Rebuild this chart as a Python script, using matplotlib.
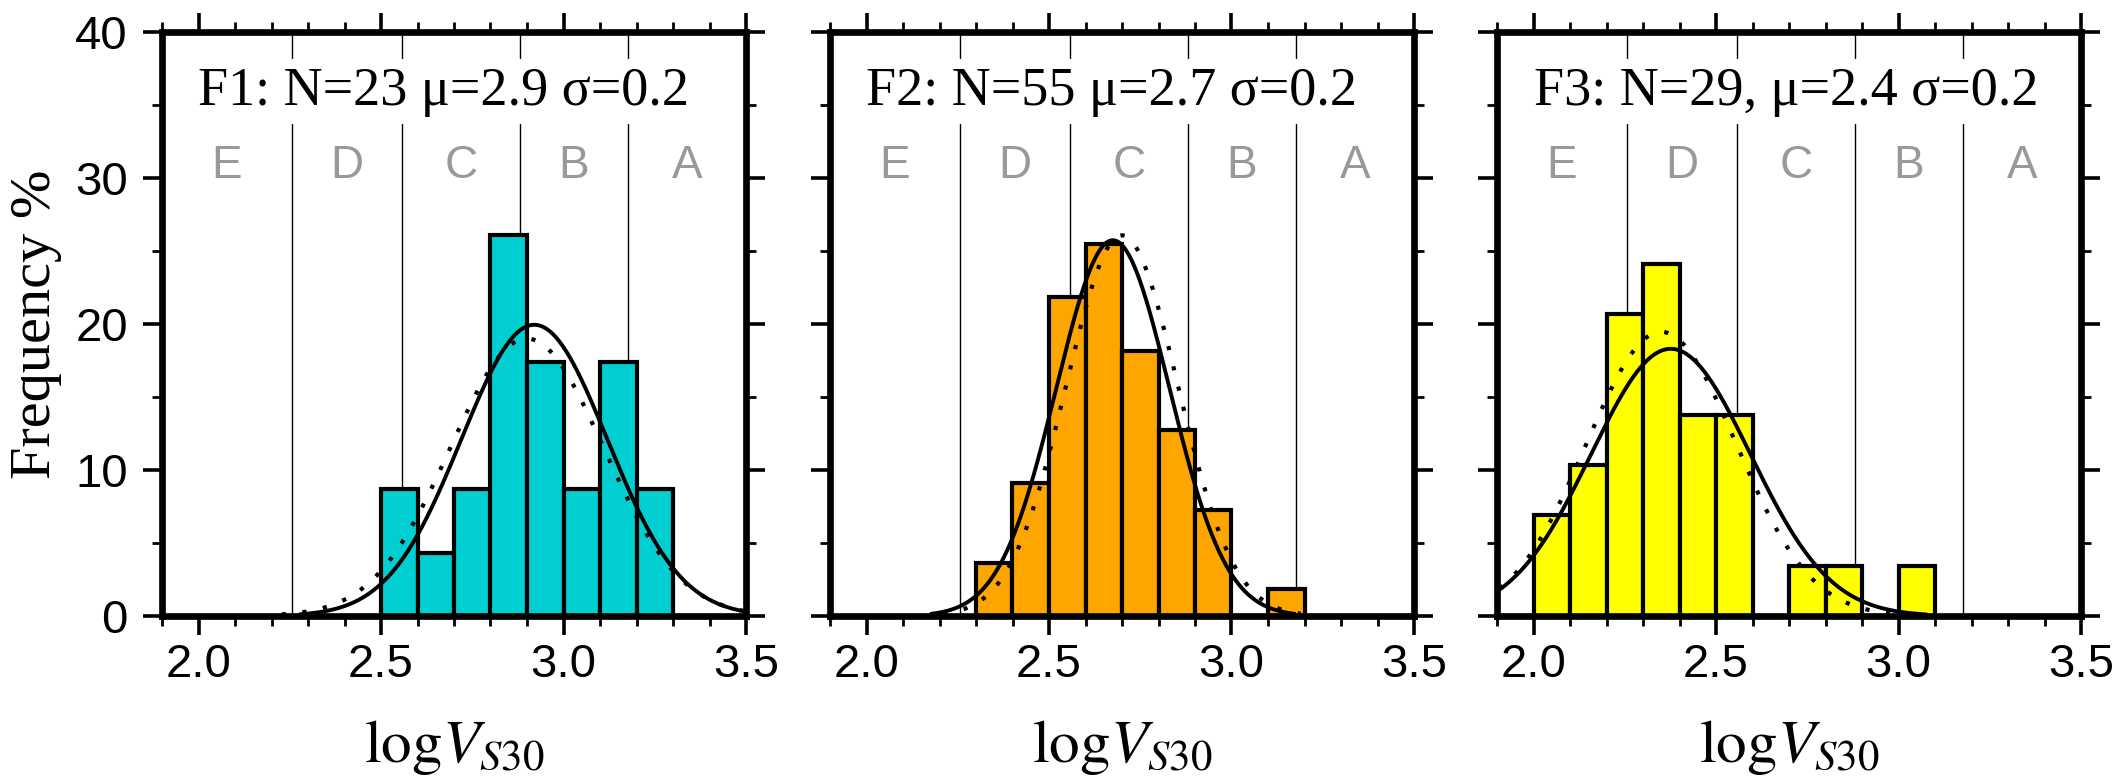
import numpy as np
import matplotlib
matplotlib.use("Agg")
import matplotlib.pyplot as plt
from matplotlib.ticker import MultipleLocator, FormatStrFormatter

plt.rcParams["font.family"] = ["Liberation Sans", "DejaVu Sans"]
plt.rcParams["mathtext.fontset"] = "stix"

# NEHRP site-class boundaries (Vs30, m/s) and class letters between them
CLASS_EDGES = [180, 360, 760, 1500]
CLASS_NAMES = ["E", "D", "C", "B", "A"]

BIN_W = 0.1

# histogram bins (left edges of logVs30) and station counts
F1_BINS = [2.5, 2.6, 2.7, 2.8, 2.9, 3.0, 3.1, 3.2]
F1_COUNTS = [2, 1, 2, 6, 4, 2, 4, 2]
F2_BINS = [2.3, 2.4, 2.5, 2.6, 2.7, 2.8, 2.9, 3.0, 3.1]
F2_COUNTS = [2, 5, 12, 14, 10, 7, 4, 0, 1]
F3_BINS = [2.0, 2.1, 2.2, 2.3, 2.4, 2.5, 2.6, 2.7, 2.8, 2.9, 3.0]
F3_COUNTS = [2, 3, 6, 7, 4, 4, 0, 1, 1, 0, 1]

# normal fits (mean, std): solid line and dotted line
F1_FIT = (2.92, 0.200)
F1_FIT_DOT = (2.90, 0.210)
F2_FIT = (2.675, 0.155)
F2_FIT_DOT = (2.70, 0.153)
F3_FIT = (2.376, 0.218)
F3_FIT_DOT = (2.35, 0.205)

TITLES = ["F1: N=23 μ=2.9 σ=0.2",
          "F2: N=55 μ=2.7 σ=0.2",
          "F3: N=29, μ=2.4 σ=0.2"]
COLORS = ["#00CED1", "#FFA500", "#FFFF00"]

XLIM = (1.9, 3.5)
YLIM = (0, 40)


def gauss_pct(x, mu, sd):
    # percent per bin of width BIN_W
    return 100 * BIN_W / (sd * np.sqrt(2 * np.pi)) * np.exp(-0.5 * ((x - mu) / sd) ** 2)


def draw_panel(ax, bins, counts, fit, fit_dot, title, color):
    n = sum(counts)
    pct = [100.0 * c / n for c in counts]

    for v in CLASS_EDGES:
        ax.axvline(np.log10(v), color="black", lw=1.0, zorder=1)

    ax.bar(bins, pct, width=BIN_W, align="edge", color=color,
           edgecolor="black", linewidth=3.0, zorder=2)

    mu, sd = fit
    x = np.linspace(mu - 3.2 * sd, mu + 3.2 * sd, 400)
    ax.plot(x, gauss_pct(x, mu, sd), color="black", lw=2.8, zorder=3)
    mu, sd = fit_dot
    x = np.linspace(mu - 3.2 * sd, mu + 3.2 * sd, 400)
    ax.plot(x, gauss_pct(x, mu, sd), color="black", lw=3.0,
            ls=(0, (1, 4)), zorder=3)

    ax.text(2.0, 35, title, family=["Liberation Serif", "DejaVu Serif"],
            fontsize=39, ha="left", va="baseline", zorder=5,
            bbox=dict(facecolor="white", edgecolor="none", pad=5))

    bounds = [XLIM[0]] + [np.log10(v) for v in CLASS_EDGES] + [XLIM[1]]
    for i, name in enumerate(CLASS_NAMES):
        ax.text(0.5 * (bounds[i] + bounds[i + 1]), 30, name, color="#999999",
                fontsize=33, ha="center", va="baseline", zorder=4)

    ax.set_xlim(*XLIM)
    ax.set_ylim(*YLIM)
    ax.xaxis.set_major_locator(MultipleLocator(0.5))
    ax.xaxis.set_minor_locator(MultipleLocator(0.1))
    ax.xaxis.set_major_formatter(FormatStrFormatter("%.1f"))
    ax.yaxis.set_major_locator(MultipleLocator(10))
    ax.yaxis.set_minor_locator(MultipleLocator(5))
    ax.tick_params(which="both", direction="out", top=True, right=True)
    ax.tick_params(which="major", length=13.5, width=2.6, labelsize=34, pad=6)
    ax.tick_params(which="minor", length=7.5, width=2.0)
    for sp in ax.spines.values():
        sp.set_linewidth(4.8)
        sp.set_capstyle("projecting")

    ax.set_xlabel(r"$\mathrm{log}V_{S30}$", fontsize=44)
    ax.xaxis.set_label_coords(0.5, -0.175)


W, H = 2112, 779
fig = plt.figure(figsize=(W / 100, H / 100), dpi=100)
lefts = [162, 830, 1497]
panels = [(F1_BINS, F1_COUNTS, F1_FIT, F1_FIT_DOT),
          (F2_BINS, F2_COUNTS, F2_FIT, F2_FIT_DOT),
          (F3_BINS, F3_COUNTS, F3_FIT, F3_FIT_DOT)]

for i, (bins, counts, fit, fit_dot) in enumerate(panels):
    ax = fig.add_axes([lefts[i] / W, (H - 616) / H, 584 / W, 584 / H])
    draw_panel(ax, bins, counts, fit, fit_dot, TITLES[i], COLORS[i])
    if i == 0:
        ax.set_ylabel("Frequency %", family=["Liberation Serif", "DejaVu Serif"],
                      fontsize=42)
        ax.yaxis.set_label_coords(-0.171, 0.5)
        ax.tick_params(axis="y", pad=11)
    else:
        ax.tick_params(axis="y", labelleft=False)

fig.savefig("out.png", dpi=100)
